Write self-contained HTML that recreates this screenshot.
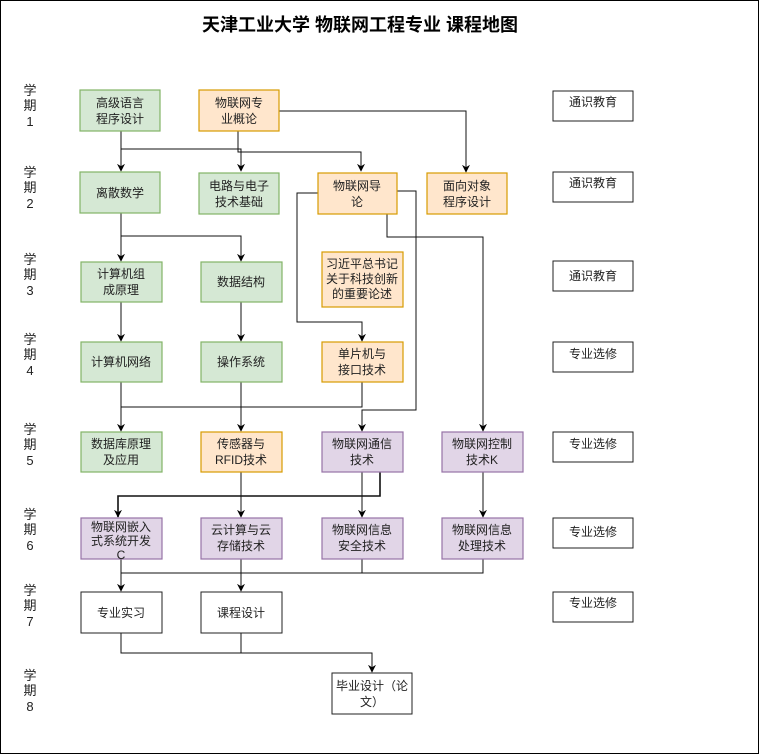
<!DOCTYPE html>
<html><head><meta charset="utf-8"><style>
body{margin:0;background:#fff}
svg{display:block}
text{font-family:"Liberation Sans","Noto Sans CJK SC",sans-serif;font-size:12px;fill:#222;text-anchor:middle}
.g{fill:#d5e8d4;stroke:#82b366;stroke-width:1.2}
.o{fill:#ffe6cc;stroke:#d79b00;stroke-width:1.2}
.p{fill:#e1d5e7;stroke:#9673a6;stroke-width:1.2}
.w{fill:#fff;stroke:#222;stroke-width:1}
.l{fill:none;stroke:#111;stroke-width:1}
.t{font-size:18px;font-weight:bold;fill:#000}
.s{font-size:13px}
</style></head><body>
<svg width="760" height="755" viewBox="0 0 760 755" xmlns="http://www.w3.org/2000/svg">
<defs><marker id="a" viewBox="0 0 10 10" refX="9" refY="5" markerWidth="8" markerHeight="8" orient="auto" markerUnits="userSpaceOnUse"><path d="M0,0 L10,5 L0,10 L3,5 Z" fill="#000"/></marker></defs>
<rect x="0.5" y="0.5" width="758" height="753" fill="#fff" stroke="#000"/>
<text class="t" x="360" y="31">天津工业大学 物联网工程专业 课程地图</text>

<g class="s">
<text x="30" y="95" class="s">学</text><text x="30" y="110" class="s">期</text><text x="30" y="126" class="s">1</text>
<text x="30" y="177" class="s">学</text><text x="30" y="192" class="s">期</text><text x="30" y="208" class="s">2</text>
<text x="30" y="264" class="s">学</text><text x="30" y="279" class="s">期</text><text x="30" y="295" class="s">3</text>
<text x="30" y="344" class="s">学</text><text x="30" y="359" class="s">期</text><text x="30" y="375" class="s">4</text>
<text x="30" y="434" class="s">学</text><text x="30" y="449" class="s">期</text><text x="30" y="465" class="s">5</text>
<text x="30" y="519" class="s">学</text><text x="30" y="534" class="s">期</text><text x="30" y="550" class="s">6</text>
<text x="30" y="595" class="s">学</text><text x="30" y="610" class="s">期</text><text x="30" y="626" class="s">7</text>
<text x="30" y="680" class="s">学</text><text x="30" y="695" class="s">期</text><text x="30" y="711" class="s">8</text>
</g>

<g class="l">
<path d="M121,131 V171" marker-end="url(#a)"/>
<path d="M121,149 H241 V171" marker-end="url(#a)"/>
<path d="M238,131 V152 H361 V171" marker-end="url(#a)"/>
<path d="M278,111 H466 V172" marker-end="url(#a)"/>
<path d="M121,213 V261" marker-end="url(#a)"/>
<path d="M121,236 H241 V261" marker-end="url(#a)"/>
<path d="M318,193 H297 V322 H362 V341" marker-end="url(#a)"/>
<path d="M387,191 H416 V410 H362 V431" marker-end="url(#a)"/>
<path d="M387,191 V237 H483 V431" marker-end="url(#a)"/>
<path d="M121,302 V341" marker-end="url(#a)"/>
<path d="M241,302 V341" marker-end="url(#a)"/>
<path d="M121,382 V431" marker-end="url(#a)"/>
<path d="M362,382 V407 H121"/>
<path d="M241,382 V431" marker-end="url(#a)"/>
<path d="M362,472 V517" marker-end="url(#a)"/>
<path d="M380,472 V496 H118 V517" marker-end="url(#a)" style="stroke-width:1.6"/>
<path d="M241,472 V517" marker-end="url(#a)"/>
<path d="M483,472 V517" marker-end="url(#a)"/>
<path d="M121,559 V591" marker-end="url(#a)"/>
<path d="M121,573 H483 V559"/>
<path d="M362,559 V573"/>
<path d="M241,559 V591" marker-end="url(#a)"/>
<path d="M121,633 V653 H372 V672" marker-end="url(#a)"/>
<path d="M241,633 V653"/>
</g>

<rect class="g" x="80" y="90" width="80" height="41"/><text x="120" y="107">高级语言</text><text x="120" y="123">程序设计</text>
<rect class="o" x="199" y="90" width="80" height="41"/><text x="239" y="107">物联网专</text><text x="239" y="123">业概论</text>
<rect class="g" x="80" y="172" width="80" height="41"/><text x="120" y="197">离散数学</text>
<rect class="g" x="199" y="173" width="80" height="41"/><text x="239" y="190">电路与电子</text><text x="239" y="206">技术基础</text>
<rect class="o" x="318" y="173" width="79" height="41"/><text x="357" y="190">物联网导</text><text x="357" y="206">论</text>
<rect class="o" x="427" y="173" width="80" height="41"/><text x="467" y="190">面向对象</text><text x="467" y="206">程序设计</text>

<rect class="g" x="81" y="262" width="81" height="40"/><text x="121" y="278">计算机组</text><text x="121" y="294">成原理</text>
<rect class="g" x="201" y="262" width="81" height="40"/><text x="241" y="286">数据结构</text>
<rect class="o" x="322" y="252" width="81" height="55"/><text x="362" y="268">习近平总书记</text><text x="362" y="283">关于科技创新</text><text x="362" y="298">的重要论述</text>

<rect class="g" x="81" y="342" width="81" height="40"/><text x="121" y="366">计算机网络</text>
<rect class="g" x="201" y="342" width="81" height="40"/><text x="241" y="366">操作系统</text>
<rect class="o" x="322" y="342" width="81" height="40"/><text x="362" y="358">单片机与</text><text x="362" y="374">接口技术</text>

<rect class="g" x="81" y="432" width="81" height="40"/><text x="121" y="448">数据库原理</text><text x="121" y="464">及应用</text>
<rect class="o" x="201" y="432" width="81" height="40"/><text x="241" y="448">传感器与</text><text x="241" y="464">RFID技术</text>
<rect class="p" x="322" y="432" width="81" height="40"/><text x="362" y="448">物联网通信</text><text x="362" y="464">技术</text>
<rect class="p" x="442" y="432" width="81" height="40"/><text x="482" y="448">物联网控制</text><text x="482" y="464">技术K</text>

<rect class="p" x="81" y="518" width="81" height="41"/><text x="121" y="531">物联网嵌入</text><text x="121" y="545">式系统开发</text><text x="121" y="559">C</text>
<rect class="p" x="201" y="518" width="81" height="41"/><text x="241" y="534">云计算与云</text><text x="241" y="550">存储技术</text>
<rect class="p" x="322" y="518" width="81" height="41"/><text x="362" y="534">物联网信息</text><text x="362" y="550">安全技术</text>
<rect class="p" x="442" y="518" width="81" height="41"/><text x="482" y="534">物联网信息</text><text x="482" y="550">处理技术</text>

<rect class="w" x="81" y="592" width="81" height="41"/><text x="121" y="617">专业实习</text>
<rect class="w" x="201" y="592" width="81" height="41"/><text x="241" y="617">课程设计</text>
<rect class="w" x="332" y="673" width="80" height="41"/><text x="372" y="690">毕业设计（论</text><text x="372" y="706">文）</text>

<rect class="w" x="553" y="91" width="80" height="30"/><text x="593" y="106">通识教育</text>
<rect class="w" x="553" y="172" width="80" height="30"/><text x="593" y="187">通识教育</text>
<rect class="w" x="553" y="261" width="80" height="30"/><text x="593" y="280">通识教育</text>
<rect class="w" x="553" y="342" width="80" height="30"/><text x="593" y="358">专业选修</text>
<rect class="w" x="553" y="432" width="80" height="30"/><text x="593" y="448">专业选修</text>
<rect class="w" x="553" y="518" width="80" height="30"/><text x="593" y="536">专业选修</text>
<rect class="w" x="553" y="592" width="80" height="30"/><text x="593" y="607">专业选修</text>
</svg>
</body></html>
